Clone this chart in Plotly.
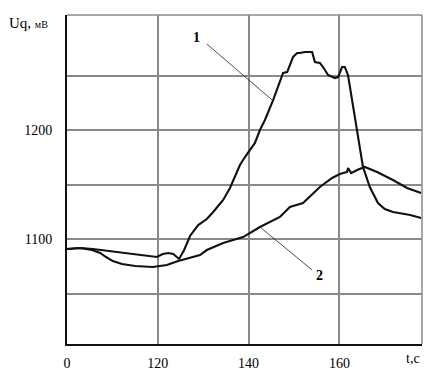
import plotly.graph_objects as go

# Curve 1 (t offset scale: left edge labelled "0" corresponds to 100)
t1 = [100, 102.9, 105.7, 109.5, 113.2, 117.2, 119.8, 121.1, 122.3, 123.4,
      124.7, 125.8, 127.1, 128.9, 130.8, 132.2, 134.4, 135.9, 136.6, 138.1,
      139.2, 140.3, 141.4, 142.5, 143.6, 145.4, 147.6, 148.5, 149.8, 150.7,
      151.3, 152.4, 154.0, 154.6, 155.7, 156.4, 157.5, 159.0, 159.7, 160.6,
      161.2, 161.9, 162.8, 163.4, 164.1, 165.2, 166.7, 168.5, 170.0, 171.8,
      175.6, 178.0]
u1 = [1090.8, 1091.7, 1090.8, 1089.0, 1087.2, 1085.3, 1083.5, 1086.2, 1087.2, 1086.2,
      1081.7, 1089.9, 1102.8, 1112.8, 1118.3, 1124.8, 1135.8, 1146.8, 1154.1, 1167.9,
      1175.2, 1181.6, 1188.1, 1200.0, 1209.2, 1227.5, 1252.3, 1253.2, 1267.0, 1270.6,
      1270.6, 1271.6, 1271.6, 1262.4, 1261.5, 1257.8, 1250.5, 1247.7, 1248.6, 1257.8,
      1257.8, 1250.5, 1227.5, 1209.2, 1190.8, 1166.1, 1147.7, 1133.0, 1127.5, 1124.8,
      1122.0, 1119.2]

# Curve 2
t2 = [100, 102.9, 105.5, 107.3, 108.6, 110.1, 112.1, 115.0, 118.9, 122.0,
      124.5, 126.4, 129.3, 130.8, 134.4, 138.8, 142.5, 146.9, 149.1, 152.0,
      155.7, 158.4, 160.1, 161.7, 161.9, 162.6, 163.9, 165.6, 168.3, 171.8,
      174.9, 178.0]
u2 = [1090.8, 1091.7, 1089.9, 1087.2, 1083.5, 1079.8, 1077.1, 1075.2, 1074.3, 1076.1,
      1079.8, 1081.7, 1085.3, 1089.9, 1096.3, 1101.8, 1111.0, 1120.2, 1129.4, 1133.0,
      1147.7, 1156.0, 1159.6, 1161.5, 1165.1, 1160.5, 1163.3, 1166.1, 1161.5, 1154.1,
      1146.8, 1142.2]

x_tickvals = [100, 120, 140, 160]
x_ticktext = ["0", "120", "140", "160"]
y_tickvals = [1050, 1100, 1150, 1200, 1250]
y_ticktext = ["", "1100", "", "1200", ""]

# Curve labels: (text, label_x, label_y, leader_start_x, leader_start_y, leader_end_x, leader_end_y)
labels = [
    ("1", 128.6, 1285.3, 130.8, 1278.9, 145.2, 1227.5),
    ("2", 155.7, 1067.0, 154.0, 1071.6, 142.5, 1111.0),
]

FONT = "Liberation Serif"
GRID = "#8a8a8a"

fig = go.Figure()
fig.add_trace(go.Scatter(x=t1, y=u1, mode="lines",
                         line=dict(color="#111111", width=2.1), showlegend=False))
fig.add_trace(go.Scatter(x=t2, y=u2, mode="lines",
                         line=dict(color="#111111", width=2.1), showlegend=False))

for txt, lx, ly, sx, sy, ex, ey in labels:
    fig.add_trace(go.Scatter(x=[sx, ex], y=[sy, ey], mode="lines",
                             line=dict(color="#222222", width=0.8), showlegend=False))
    fig.add_annotation(x=lx, y=ly, text="<b>%s</b>" % txt, showarrow=False,
                       font=dict(family=FONT, size=14, color="#000"))

# top and right frame (gray, like grid)
fig.add_shape(type="line", xref="paper", yref="paper", x0=0, x1=1, y0=1, y1=1,
              line=dict(color=GRID, width=1.5))
fig.add_shape(type="line", xref="paper", yref="paper", x0=1, x1=1, y0=0, y1=1,
              line=dict(color=GRID, width=1.5))

fig.add_annotation(xref="paper", yref="paper", x=-0.17, y=0.975, xanchor="left", yanchor="middle",
                   text="Uq, <span style='font-size:10px'>мВ</span>", showarrow=False,
                   font=dict(family=FONT, size=15, color="#000"))
fig.add_annotation(xref="paper", yref="paper", x=0.975, y=-0.045, xanchor="center", yanchor="middle",
                   text="t,c", showarrow=False,
                   font=dict(family=FONT, size=14, color="#000"))

fig.update_layout(
    width=433, height=376,
    margin=dict(l=59, r=19, t=7, b=40),
    paper_bgcolor="white", plot_bgcolor="white",
    font=dict(family=FONT, size=14, color="#000"),
    xaxis=dict(range=[100, 178.2], tickvals=x_tickvals, ticktext=x_ticktext,
               showgrid=True, gridcolor=GRID, gridwidth=1.5, zeroline=False,
               showline=True, linecolor="#111", linewidth=2, ticks="",
               ticklabelstandoff=5),
    yaxis=dict(range=[1003.7, 1305.5], tickvals=y_tickvals, ticktext=y_ticktext,
               showgrid=True, gridcolor=GRID, gridwidth=1.5, zeroline=False,
               showline=True, linecolor="#111", linewidth=2, ticks="",
               ticklabelstandoff=10),
)

fig.write_html("out.html")
